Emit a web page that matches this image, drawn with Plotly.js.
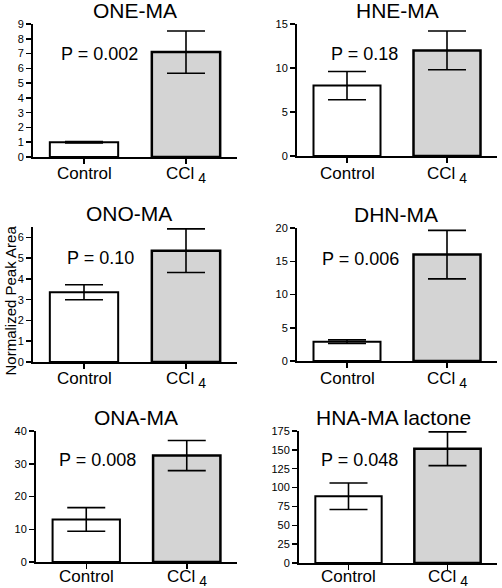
<!DOCTYPE html>
<html>
<head>
<meta charset="utf-8">
<script src="https://cdn.plot.ly/plotly-3.0.1.min.js"></script>
<style>
html,body{margin:0;padding:0;background:#fff;}
#chart{width:502px;height:588px;}
</style>
</head>
<body>
<div id="chart"></div>
<script>
// ---- data ----
const categories = ['Control', 'CCl<sub><span style="font-size:14px"> 4</span></sub>'];
const titles = ['ONE-MA', 'HNE-MA', 'ONO-MA', 'DHN-MA', 'ONA-MA', 'HNA-MA lactone'];
const pLabels = ['P = 0.002', 'P = 0.18', 'P = 0.10', 'P = 0.006', 'P = 0.008', 'P = 0.048'];
const controlMeans = [1.0, 8.0, 3.36, 2.9, 13.0, 88.5];
const controlErr = [0.05, 1.6, 0.36, 0.27, 3.6, 17.5];
const ccl4Means = [7.1, 12.0, 5.36, 16.0, 32.5, 151.5];
const ccl4Err = [1.43, 2.2, 1.05, 3.65, 4.6, 22.4];
const yMax = [9, 15, 6.5, 20, 40, 175];
const yDtick = [1, 5, 1, 5, 10, 25];
const yAxisTitle = 'Normalized Peak Area';

// ---- layout geometry (pixels) ----
const W = 502, H = 588;
const panels = [
  {x0: 33, x1: 237, yTop: 24, yBot: 157, tx: 135, ty: 11, px: 99, py: 54, ly: 167},
  {x0: 297, x1: 497, yTop: 24, yBot: 156, tx: 397, ty: 11, px: 364, py: 54, ly: 167},
  {x0: 33, x1: 237, yTop: 227, yBot: 362, tx: 129, ty: 213, px: 100, py: 258, ly: 372},
  {x0: 297, x1: 497, yTop: 228, yBot: 361, tx: 396, ty: 214, px: 360, py: 259, ly: 372},
  {x0: 36, x1: 237, yTop: 431, yBot: 562, tx: 136, ty: 417, px: 97, py: 460, ly: 570},
  {x0: 299, x1: 497, yTop: 431, yBot: 563, tx: 393, ty: 417, px: 359, py: 460, ly: 570}
];
const FONT = 'Liberation Sans, Arial, Helvetica, sans-serif';
const LABEL_PAD = 5;

const traces = [];
const layout = {
  width: W, height: H,
  margin: {l: 0, r: 0, t: 0, b: 0},
  paper_bgcolor: '#fff', plot_bgcolor: 'rgba(0,0,0,0)',
  showlegend: false,
  font: {family: FONT, color: '#000'},
  bargap: 0.33,
  annotations: []
};

panels.forEach((p, i) => {
  const n = i === 0 ? '' : String(i + 1);
  traces.push({
    type: 'bar',
    x: categories,
    y: [controlMeans[i], ccl4Means[i]],
    xaxis: 'x' + n, yaxis: 'y' + n,
    marker: {color: ['#ffffff', '#d4d4d4'], line: {color: '#000', width: [2, 2.5]}},
    error_y: {type: 'data', array: [controlErr[i], ccl4Err[i]], visible: true,
              color: '#000', thickness: 1.6, width: 19},
    hoverinfo: 'none'
  });
  layout['xaxis' + n] = {
    domain: [p.x0 / W, p.x1 / W],
    anchor: 'y' + n,
    type: 'category',
    range: [-0.5, 1.5],
    showline: true, linecolor: '#000', linewidth: 2,
    ticks: 'outside', ticklen: 5, tickwidth: 1.5, tickcolor: '#000',
    showticklabels: false,
    showgrid: false, zeroline: false, fixedrange: true
  };
  layout['yaxis' + n] = {
    domain: [1 - p.yBot / H, 1 - p.yTop / H],
    anchor: 'x' + n,
    range: [0, yMax[i]],
    dtick: yDtick[i], tick0: 0,
    showline: true, linecolor: '#000', linewidth: 2,
    ticks: 'outside', ticklen: 5, tickwidth: 1.5, tickcolor: '#000',
    tickfont: {size: 11, family: FONT, color: '#000'},
    showgrid: false, zeroline: false, fixedrange: true
  };
  // category labels placed just under the axis
  categories.forEach(c => {
    layout.annotations.push({
      text: c, xref: 'x' + n, yref: 'paper',
      x: c, y: 1 - (p.ly - LABEL_PAD) / H, xanchor: 'center', yanchor: 'top',
      showarrow: false, font: {size: 17, family: FONT, color: '#000'}
    });
  });
  layout.annotations.push({
    text: titles[i], xref: 'paper', yref: 'paper',
    x: p.tx / W, y: 1 - p.ty / H, xanchor: 'center', yanchor: 'middle',
    showarrow: false, font: {size: 21, family: FONT, color: '#000'}
  });
  layout.annotations.push({
    text: pLabels[i], xref: 'paper', yref: 'paper',
    x: p.px / W, y: 1 - p.py / H, xanchor: 'center', yanchor: 'middle',
    showarrow: false, font: {size: 18, family: FONT, color: '#000'}
  });
});

layout.annotations.push({
  text: yAxisTitle, xref: 'paper', yref: 'paper',
  x: 0, y: 1 - 301 / H, xanchor: 'left', yanchor: 'middle',
  textangle: -90, showarrow: false, borderpad: 0,
  font: {size: 15, family: FONT, color: '#000'}
});

Plotly.newPlot('chart', traces, layout, {staticPlot: true, displayModeBar: false});
</script>
</body>
</html>
